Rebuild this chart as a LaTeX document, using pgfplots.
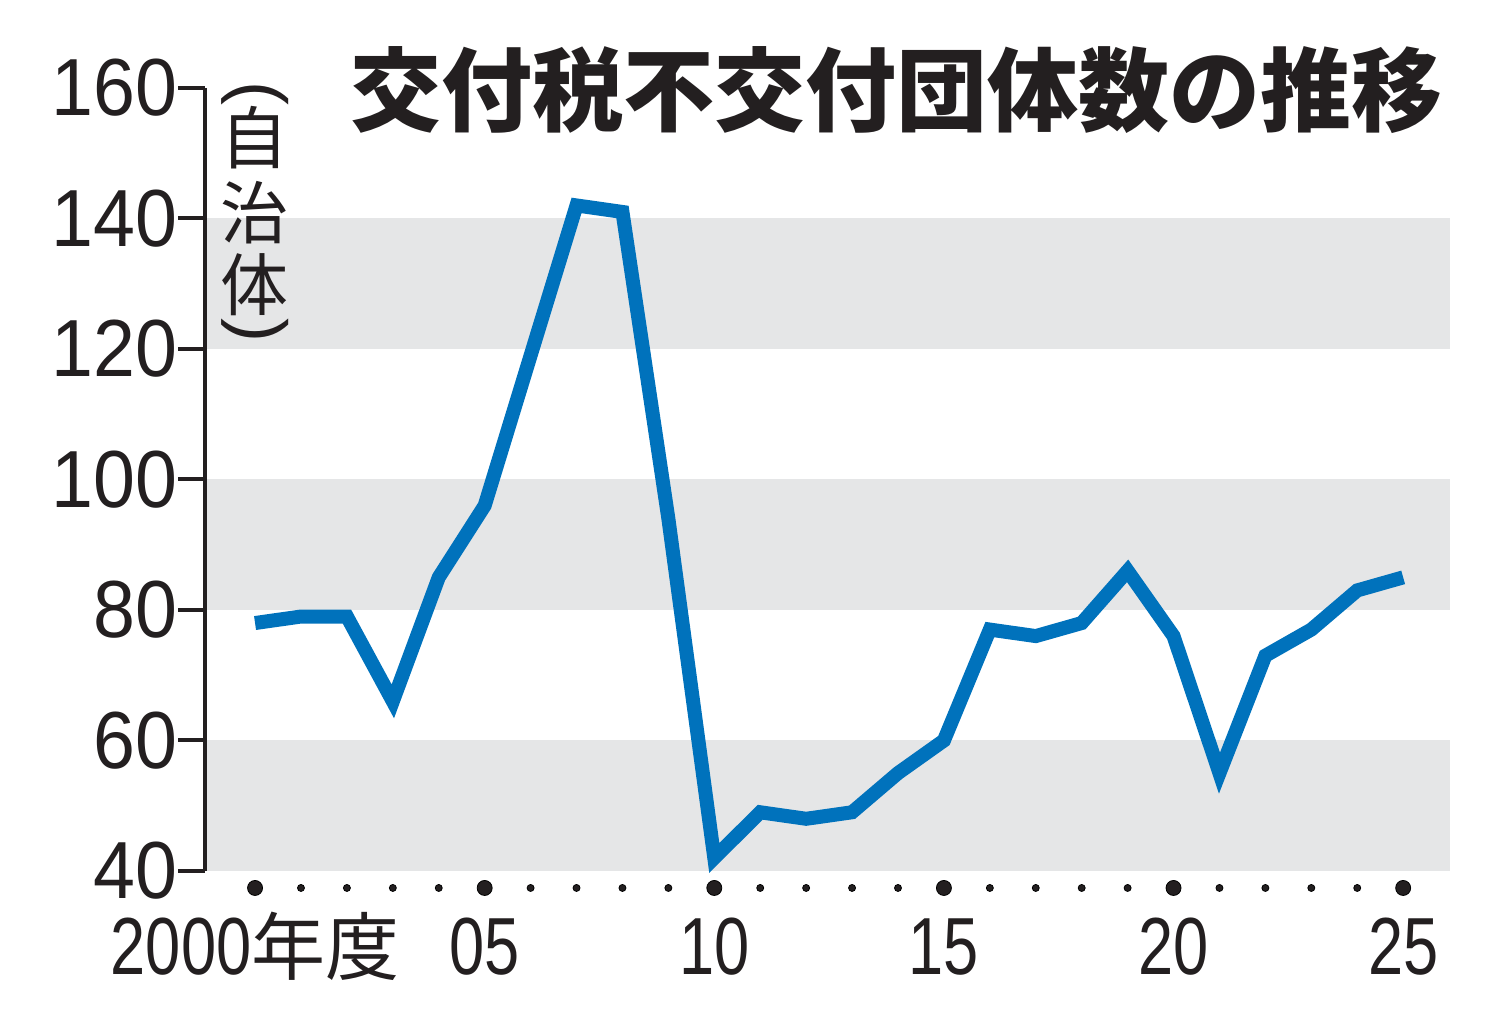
\documentclass[border=0pt]{standalone}
\usepackage{pgfplots}
\pgfplotsset{compat=1.18}
\usepackage{fontspec}
\setmainfont{Liberation Sans}
\newfontfamily\cjk{Noto Sans CJK JP}
\newfontfamily\ynum{Liberation Sans}[FakeStretch=0.93]
\newfontfamily\xnum{Liberation Sans}[FakeStretch=0.78]
\definecolor{band}{RGB}{229,230,231}
\definecolor{lineblue}{RGB}{0,114,188}
\definecolor{ink}{RGB}{35,31,32}
\begin{document}
\begin{tikzpicture}
\useasboundingbox (-102.5pt,-72.5pt) rectangle (641.5pt,435.5pt);
\begin{axis}[
  at={(0pt,0pt)}, anchor=south west,
  scale only axis, width=622.5pt, height=391.5pt,
  xmin=1998.91, xmax=2026.02, ymin=40, ymax=160,
  clip=false, axis on top,
  axis lines*=left,
  axis line style={-},
  x axis line style={draw=none},
  y axis line style={line width=2pt, ink},
  xtick={2000,2005,2010,2015,2020,2025},
  xticklabels={{\xnum 2000\cjk\fontsize{37}{37}\selectfont 年度},{\xnum 05},{\xnum 10},{\xnum 15},{\xnum 20},{\xnum 25}},
  xtick style={draw=none},
  xticklabel style={anchor=base, yshift=-52pt, inner sep=0pt, font=\fontsize{40.5}{40.5}\selectfont, text=ink},
  ytick={40,60,80,100,120,140,160},
  yticklabels={40,60,80,100,120,140,160},
  ytick align=outside,
  major tick length=13.5pt,
  ytick style={line width=2pt, ink},
  yticklabel style={anchor=east, inner sep=0pt, font=\ynum\fontsize{40.5}{40.5}\selectfont, text=ink},
]
\fill[band] (axis cs:1998.91,40) rectangle (axis cs:2026.02,60);
\fill[band] (axis cs:1998.91,80) rectangle (axis cs:2026.02,100);
\fill[band] (axis cs:1998.91,120) rectangle (axis cs:2026.02,140);
\addplot[lineblue, line width=7pt, line join=miter, line cap=butt] coordinates {
(2000,78) (2001,79) (2002,79) (2003,66) (2004,85) (2005,96) (2006,119) (2007,142)
(2008,141) (2009,94) (2010,42) (2011,49) (2012,48) (2013,49) (2014,55) (2015,60)
(2016,77) (2017,76) (2018,78) (2019,86) (2020,76) (2021,55) (2022,73) (2023,77)
(2024,83) (2025,85)};
\addplot[only marks, mark=*, mark size=1.75pt, mark options={draw=none, fill=ink}] coordinates {
(2001,37.4) (2002,37.4) (2003,37.4) (2004,37.4) (2006,37.4) (2007,37.4) (2008,37.4) (2009,37.4)
(2011,37.4) (2012,37.4) (2013,37.4) (2014,37.4) (2016,37.4) (2017,37.4) (2018,37.4) (2019,37.4)
(2021,37.4) (2022,37.4) (2023,37.4) (2024,37.4)};
\addplot[only marks, mark=*, mark size=3.75pt, mark options={draw=none, fill=ink}] coordinates {
(2000,37.4) (2005,37.4) (2010,37.4) (2015,37.4) (2020,37.4) (2025,37.4)};
\end{axis}
\node[anchor=west, inner sep=0pt, font=\cjk\bfseries\fontsize{45.5}{45.5}\selectfont, text=ink] at (72.5pt,390.5pt) {交付税不交付団体数の推移};
\begin{scope}[every node/.style={inner sep=0pt, font=\cjk\fontsize{34}{34}\selectfont, text=ink}]
\node at (25pt,366.5pt) {自};
\node at (25pt,329pt) {治};
\node at (25pt,293pt) {体};
\node[rotate=-90, font=\fontsize{36}{36}\selectfont] at (25pt,388.5pt) {(};
\node[rotate=-90, font=\fontsize{36}{36}\selectfont] at (25pt,270pt) {)};
\end{scope}
\end{tikzpicture}
\end{document}
